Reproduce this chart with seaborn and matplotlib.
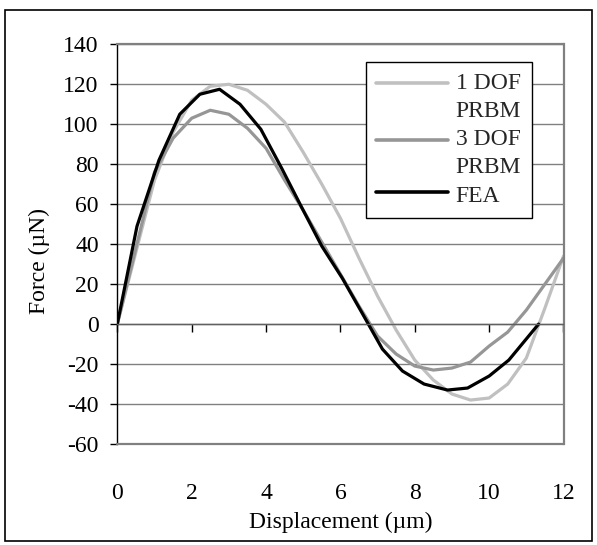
import numpy as np
import pandas as pd
import seaborn as sns
import matplotlib
matplotlib.use("Agg")
import matplotlib.pyplot as plt
from matplotlib.patches import Rectangle
from matplotlib.legend_handler import HandlerLine2D

# ---- data ----
x_1dof = [0, 0.5, 1, 1.5, 2, 2.5, 3, 3.5, 4, 4.5, 5, 5.5, 6, 6.5, 7, 7.5, 8, 8.5,
          9, 9.5, 10, 10.5, 11, 11.5, 12]
y_1dof = [0, 36, 72, 96, 112, 119, 120, 117, 110, 101, 86, 70, 53, 33, 14, -3, -18, -28,
          -35, -38, -37, -30, -17, 8, 34]

x_3dof = [0, 0.5, 1, 1.5, 2, 2.5, 3, 3.5, 4, 4.5, 5, 5.5, 6, 6.5, 7, 7.5, 8, 8.5,
          9, 9.5, 10, 10.5, 11, 11.5, 12]
y_3dof = [0, 38, 76, 93, 103, 107, 105, 98, 88, 72, 57, 41, 25, 9, -6, -15, -21, -23,
          -22, -19, -11, -4, 7, 20, 33]

x_fea = [0, 0.53, 1.12, 1.68, 2.22, 2.75, 3.3, 3.86, 4.42, 4.97, 5.5, 6.05, 6.6,
         7.13, 7.67, 8.25, 8.88, 9.42, 10.0, 10.53, 11.33]
y_fea = [0, 49, 82, 105, 115, 117.5, 110, 97.5, 78, 58, 39, 23, 5,
         -12.5, -23.5, -30, -33, -32, -26, -18, 0]

series_names = ["1 DOF\nPRBM", "3 DOF\nPRBM", "FEA"]
series_colors = ["#c0c0c0", "#969696", "#000000"]

x_ticks = [0, 2, 4, 6, 8, 10, 12]
y_ticks = [-60, -40, -20, 0, 20, 40, 60, 80, 100, 120, 140]
x_label = "Displacement (µm)"
y_label = "Force (µN)"

# ---- build table ----
df = pd.concat([
    pd.DataFrame({"x": x_1dof, "y": y_1dof, "series": series_names[0]}),
    pd.DataFrame({"x": x_3dof, "y": y_3dof, "series": series_names[1]}),
    pd.DataFrame({"x": x_fea, "y": y_fea, "series": series_names[2]}),
], ignore_index=True)

sns.set_theme(style="white")
plt.rcParams["font.family"] = ["Liberation Serif", "DejaVu Serif"]
plt.rcParams["axes.unicode_minus"] = False

FS = 17
fig = plt.figure(figsize=(5.97, 5.45), dpi=100)
ax = fig.add_axes([117.3 / 597, 1 - 444 / 545, (563.5 - 117.3) / 597, (444 - 44.3) / 545])

sns.lineplot(data=df, x="x", y="y", hue="series", hue_order=series_names,
             palette=dict(zip(series_names, series_colors)), sort=False,
             estimator=None, linewidth=2.3, legend=False, ax=ax)

ax.set_xlim(0, 12)
ax.set_ylim(-60, 140)
ax.set_xticks(x_ticks)
ax.set_yticks(y_ticks)
ax.set_xticklabels([str(v) for v in x_ticks])
ax.set_yticklabels([str(v) for v in y_ticks])

# gridlines
ax.grid(axis="y", color="#808080", linewidth=1.0)
ax.grid(axis="x", visible=False)
ax.set_axisbelow(True)

# spines
for s in ["top", "right"]:
    ax.spines[s].set_visible(True)
    ax.spines[s].set_color("#808080")
    ax.spines[s].set_linewidth(1.6)
ax.spines["left"].set_color("#000000")
ax.spines["left"].set_linewidth(1.0)
ax.spines["bottom"].set_position(("data", 0))
ax.spines["bottom"].set_color("#606060")
ax.spines["bottom"].set_linewidth(1.0)
# bottom frame edge (the spine moved to y=0)
ax.axhline(-60, color="#808080", linewidth=1.6, clip_on=False, zorder=3)

ax.tick_params(axis="y", direction="out", length=5, width=1, color="#000000",
               pad=8.4, left=True, labelcolor="#000000", labelsize=FS)
ax.tick_params(axis="x", direction="out", length=5.8, width=1, color="#000000",
               pad=108.5, bottom=True, labelcolor="#000000", labelsize=FS)

ax.set_xlabel(x_label, fontsize=FS, color="#000000")
ax.set_ylabel(y_label, fontsize=FS, color="#000000")
ax.xaxis.set_label_coords(0.501, -0.170)
ax.yaxis.set_label_coords(-0.150, 0.458)


class OffsetLine(HandlerLine2D):
    def __init__(self, dy=0.0, lead=0.0, **kw):
        super().__init__(**kw)
        self.dy = dy
        self.lead = lead

    def create_artists(self, legend, orig_handle, xdescent, ydescent, width,
                       height, fontsize, trans):
        arts = super().create_artists(legend, orig_handle, xdescent, ydescent,
                                      width, height, fontsize, trans)
        for a in arts:
            xd = np.asarray(a.get_xdata(), float)
            yd = np.asarray(a.get_ydata(), float)
            if len(xd) == 2:
                a.set_xdata([xd[0] + self.lead, xd[1]])
            a.set_ydata(yd + self.dy)
        return arts


handles = ax.lines[:3]
hmap = {handles[0]: OffsetLine(dy=10.0, lead=10.0),
        handles[1]: OffsetLine(dy=10.0, lead=10.0),
        handles[2]: OffsetLine(dy=1.5, lead=10.0)}
leg = ax.legend(handles, series_names, handler_map=hmap, loc="upper left",
                bbox_to_anchor=(0.557, 0.955), fontsize=FS, frameon=True,
                fancybox=False, edgecolor="#000000", framealpha=1,
                borderpad=0.45, handlelength=3.05, handletextpad=0.3,
                labelspacing=0.3, borderaxespad=0)
leg.get_frame().set_linewidth(1.0)
for t in leg.get_texts():
    t.set_linespacing(1.45)
for h in leg.legend_handles:
    h.set_linewidth(2.6)

# figure border
fig.patches.append(Rectangle((5 / 597, 1 - 541 / 545), 587 / 597, 531 / 545,
                             transform=fig.transFigure, fill=False,
                             edgecolor="#000000", linewidth=1.2))

fig.savefig("out.png", dpi=100)
